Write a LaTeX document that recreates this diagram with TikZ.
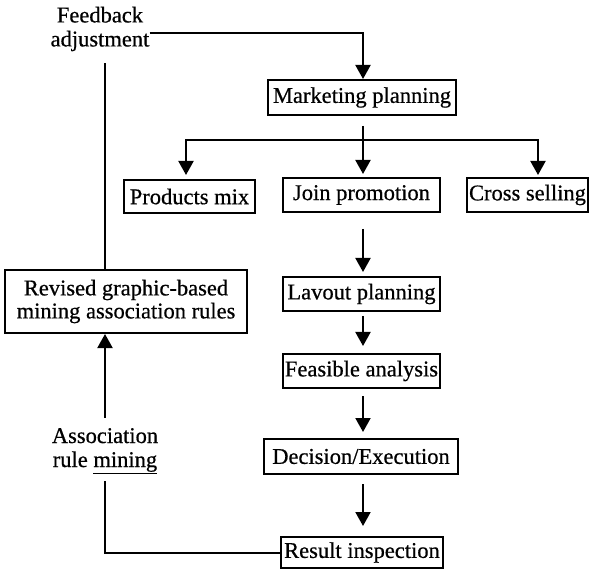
\documentclass[tikz,border=0pt]{standalone}
\usepackage{fontspec}
\setmainfont{Liberation Serif}[FakeBold=0.6]
\usetikzlibrary{arrows.meta}
\begin{document}
\begin{tikzpicture}[x=1pt,y=-1pt,
  box/.style={draw,line width=2pt,inner sep=0pt,font=\fontsize{22.5}{23}\selectfont},
  lbl/.style={inner sep=0pt,align=center,font=\fontsize{22.5}{24}\selectfont},
  conn/.style={line width=2pt},
  arr/.style={line width=2pt,-{Triangle[width=15pt,length=14pt]}}]
\useasboundingbox (0,0) rectangle (589,569);
\node[box,minimum width=188pt,minimum height=35pt] (mp) at (362,97.5) {Marketing planning};
\node[box,minimum width=131pt,minimum height=33pt] (pm) at (189.5,196.5) {Products mix};
\node[box,minimum width=157pt,minimum height=34pt] (jp) at (361.5,195) {Join promotion};
\node[box,minimum width=121pt,minimum height=34pt] (cs) at (527.5,195) {Cross selling};
\node[box,minimum width=157pt,minimum height=34pt] (lp) at (361.5,294) {Lavout planning};
\node[box,minimum width=157pt,minimum height=34pt] (fa) at (361.5,371) {Feasible analysis};
\node[box,minimum width=194pt,minimum height=35pt] (de) at (361,456.5) {Decision/Execution};
\node[box,minimum width=162pt,minimum height=31pt] (ri) at (362,552.5) {Result inspection};
\node[box,align=center,minimum width=242pt,minimum height=63pt] (rv) at (126,301.5) {Revised graphic-based\\mining association rules};
\node[lbl] (fb) at (100,29) {Feedback\\adjustment};
\node[lbl] (am) at (105,451) {Association\\rule \underline{mining}};
\coordinate (br) at (363,140);
\coordinate (lx) at (105,63);
% feedback loop
\draw[arr] ([yshift=-4pt]fb.east) -| (br |- mp.north);
\draw[conn] (lx |- rv.north) -- (lx);
% branches
\draw[conn] (br |- mp.south) ++(0,10) -- (br);
\draw[arr,shorten >=3pt] (br) -| (186,178);
\draw[arr,shorten >=3pt] (br) -- (br |- jp.north);
\draw[arr,shorten >=3pt] (br) -| (538,178);
% main column
\draw[arr,shorten <=16pt,shorten >=4pt] (br |- jp.south) -- (br |- lp.north);
\draw[arr,shorten <=4pt,shorten >=7pt] (br |- lp.south) -- (br |- fa.north);
\draw[arr,shorten <=7pt,shorten >=6pt] (br |- fa.south) -- (br |- de.north);
\draw[arr,shorten <=9pt,shorten >=10pt] (br |- de.south) -- (br |- ri.north);
% mining loop
\draw[conn] (ri.west) -| ([yshift=-7pt]am.south);
\draw[arr] ([yshift=10pt]am.north) -- (lx |- rv.south);
\end{tikzpicture}
\end{document}
